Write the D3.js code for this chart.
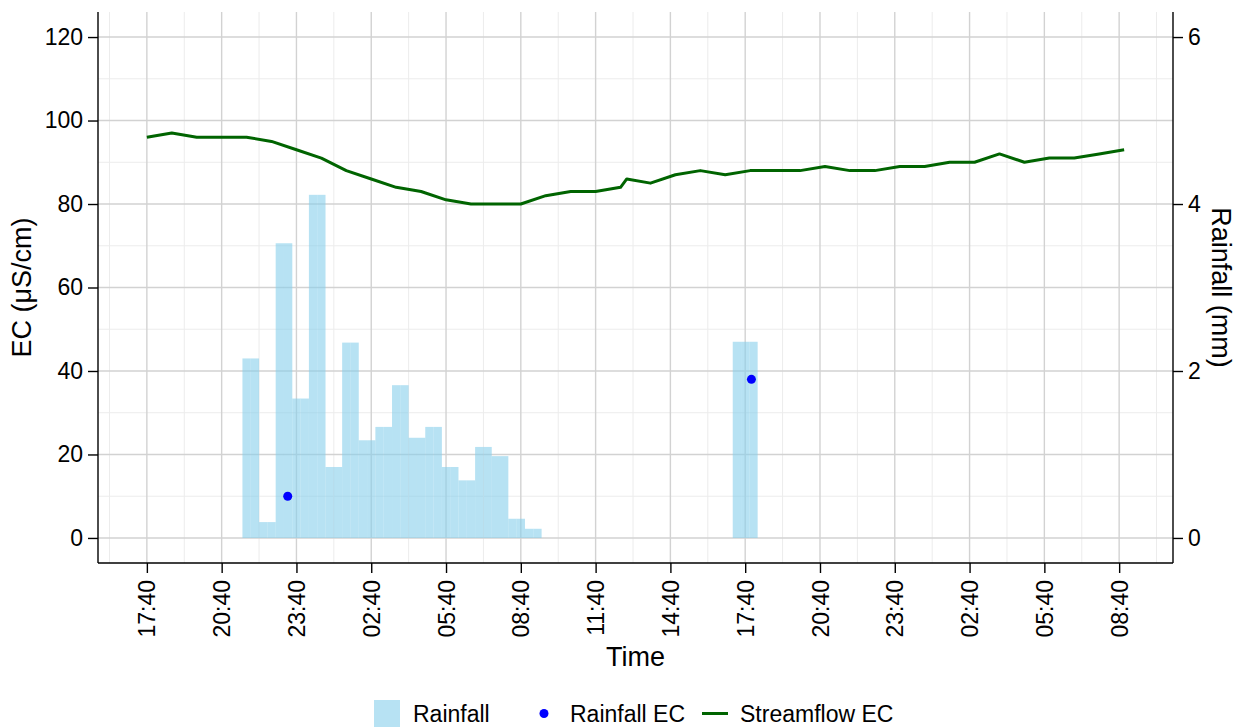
<!DOCTYPE html>
<html>
<head>
<meta charset="utf-8">
<script src="https://cdn.jsdelivr.net/npm/d3@7"></script>
<style>
  html, body { margin: 0; padding: 0; background: #fff; }
  svg { display: block; font-family: "Liberation Sans", Arial, sans-serif; }
</style>
</head>
<body>
<svg id="chart" width="1244" height="727"></svg>
<script>
// Elapsed hours since 17:40 on the first day
const tickHours = [0, 3, 6, 9, 12, 15, 18, 21, 24, 27, 30, 33, 36, 39];
const tickLabels = ["17:40", "20:40", "23:40", "02:40", "05:40", "08:40", "11:40",
                    "14:40", "17:40", "20:40", "23:40", "02:40", "05:40", "08:40"];

// Streamflow EC (µS/cm)
const streamHours = [0, 1, 2, 3, 4, 5, 6, 7, 8, 9, 10, 11, 12, 13, 14, 15, 16, 17, 18, 19,
                     19.25, 20.2, 21.2, 22.2, 23.2, 24.2, 25.2, 26.2, 27.2, 28.2, 29.2, 30.2,
                     31.2, 32.2, 33.2, 34.2, 35.2, 36.2, 37.2, 38.2, 39.2];
const streamEC = [96, 97, 96, 96, 96, 95, 93, 91, 88, 86, 84, 83, 81, 80, 80, 80, 82, 83, 83, 84,
                  86, 85, 87, 88, 87, 88, 88, 88, 89, 88, 88, 89,
                  89, 90, 90, 92, 90, 91, 91, 92, 93];

// Rainfall (mm) in 20-minute intervals, bar centres in elapsed hours
const rainHours = [4.0, 4.333, 4.667, 5.0, 5.333, 5.667, 6.0, 6.333, 6.667, 7.0, 7.333, 7.667,
                   8.0, 8.333, 8.667, 9.0, 9.333, 9.667, 10.0, 10.333, 10.667, 11.0, 11.333, 11.667,
                   12.0, 12.333, 12.667, 13.0, 13.333, 13.667, 14.0, 14.333, 14.667, 15.0, 15.333, 15.667,
                   23.667, 24.0, 24.333];
const rainMM = [2.15, 2.15, 0.19, 0.19, 3.53, 3.53, 1.67, 1.67, 4.11, 4.11, 0.85, 0.85,
                2.34, 2.34, 1.17, 1.17, 1.33, 1.33, 1.83, 1.83, 1.20, 1.20, 1.33, 1.33,
                0.85, 0.85, 0.69, 0.69, 1.09, 1.09, 0.98, 0.98, 0.23, 0.23, 0.11, 0.11,
                2.35, 2.35, 2.35];

// Rainfall EC samples (µS/cm)
const rainECHours = [5.65, 24.25];
const rainEC = [10, 38];

const ecTicks = [0, 20, 40, 60, 80, 100, 120];
const rainTicks = [0, 2, 4, 6];
const rainToEC = 20; // secondary axis: 1 mm of rainfall per 20 µS/cm

const svg = d3.select("#chart");
const m = { left: 98, right: 1173, top: 12, bottom: 563 };

const dataExtent = d3.extent(streamHours.concat(rainHours, rainECHours));
const pad = (dataExtent[1] - dataExtent[0]) * 0.05;
const x = d3.scaleLinear().domain([dataExtent[0] - pad, dataExtent[1] + pad]).range([m.left, m.right]);
const y = d3.scaleLinear().domain([-6, 126]).range([m.bottom, m.top]);
const yRain = d3.scaleLinear().domain([-6 / rainToEC, 126 / rainToEC]).range([m.bottom, m.top]);

const grid = svg.append("g");
// minor grid
const minorX = [-1.5].concat(tickHours.map(h => h + 1.5));
const minorY = [10, 30, 50, 70, 90, 110];
grid.selectAll(".mx").data(minorX.filter(h => x(h) > m.left && x(h) < m.right)).join("line")
  .attr("x1", d => x(d)).attr("x2", d => x(d)).attr("y1", m.top).attr("y2", m.bottom)
  .attr("stroke", "#ececec").attr("stroke-width", 1);
grid.selectAll(".my").data(minorY).join("line")
  .attr("x1", m.left).attr("x2", m.right).attr("y1", d => y(d)).attr("y2", d => y(d))
  .attr("stroke", "#ececec").attr("stroke-width", 1);
// major grid
grid.selectAll(".Mx").data(tickHours).join("line")
  .attr("x1", d => x(d)).attr("x2", d => x(d)).attr("y1", m.top).attr("y2", m.bottom)
  .attr("stroke", "#d2d2d2").attr("stroke-width", 1.4);
grid.selectAll(".My").data(ecTicks).join("line")
  .attr("x1", m.left).attr("x2", m.right).attr("y1", d => y(d)).attr("y2", d => y(d))
  .attr("stroke", "#d2d2d2").attr("stroke-width", 1.4);

// rainfall bars
const barW = x(1 / 3) - x(0);
svg.append("g").selectAll("rect").data(rainHours).join("rect")
  .attr("x", (d) => x(d) - barW / 2)
  .attr("width", barW)
  .attr("y", (d, i) => yRain(rainMM[i]))
  .attr("height", (d, i) => yRain(0) - yRain(rainMM[i]))
  .attr("fill", "skyblue").attr("fill-opacity", 0.6);

// streamflow EC line
const line = d3.line().x(d => x(d[0])).y(d => y(d[1]));
svg.append("path")
  .datum(streamHours.map((h, i) => [h, streamEC[i]]))
  .attr("d", line)
  .attr("fill", "none").attr("stroke", "#006400").attr("stroke-width", 3)
  .attr("stroke-linejoin", "round");

// rainfall EC points
svg.append("g").selectAll("circle").data(rainECHours).join("circle")
  .attr("cx", d => x(d)).attr("cy", (d, i) => y(rainEC[i])).attr("r", 4.5)
  .attr("fill", "#0000ff");

// axes
const fontTick = 23;
const axisL = svg.append("g").attr("transform", `translate(${m.left},0)`)
  .call(d3.axisLeft(y).tickValues(ecTicks).tickSize(10).tickPadding(5));
const axisR = svg.append("g").attr("transform", `translate(${m.right},0)`)
  .call(d3.axisRight(yRain).tickValues(rainTicks).tickFormat(d3.format("d")).tickSize(10).tickPadding(5));
const axisB = svg.append("g").attr("transform", `translate(0,${m.bottom})`)
  .call(d3.axisBottom(x).tickValues(tickHours).tickFormat((d, i) => tickLabels[i]).tickSize(10));

[axisL, axisR, axisB].forEach(g => {
  g.select(".domain").remove();
  g.selectAll(".tick line").attr("stroke", "#000").attr("stroke-width", 1.4);
  g.selectAll(".tick text").attr("fill", "#000").style("font-size", fontTick + "px")
    .style("font-family", "'Liberation Sans', Arial, sans-serif");
});
// axis lines spanning the panel
svg.append("line").attr("x1", m.left).attr("x2", m.left).attr("y1", m.top).attr("y2", m.bottom)
  .attr("stroke", "#000").attr("stroke-width", 1.4);
svg.append("line").attr("x1", m.right).attr("x2", m.right).attr("y1", m.top).attr("y2", m.bottom)
  .attr("stroke", "#000").attr("stroke-width", 1.4);
svg.append("line").attr("x1", m.left).attr("x2", m.right).attr("y1", m.bottom).attr("y2", m.bottom)
  .attr("stroke", "#000").attr("stroke-width", 1.4);

axisB.selectAll(".tick text")
  .attr("transform", "rotate(-90)")
  .attr("text-anchor", "end")
  .attr("x", -17).attr("y", 0).attr("dy", "0.35em");

// axis titles
const fontTitle = 27;
svg.append("text").attr("x", (m.left + m.right) / 2).attr("y", 666)
  .attr("text-anchor", "middle").style("font-size", fontTitle + "px").text("Time");
svg.append("text").attr("transform", `translate(31,${(m.top + m.bottom) / 2}) rotate(-90)`)
  .attr("text-anchor", "middle").style("font-size", fontTitle + "px").text("EC (μS/cm)");
svg.append("text").attr("transform", `translate(1212,${(m.top + m.bottom) / 2}) rotate(90)`)
  .attr("text-anchor", "middle").style("font-size", fontTitle + "px").text("Rainfall (mm)");

// legend
const lg = svg.append("g").style("font-size", "23px");
lg.append("rect").attr("x", 374).attr("y", 700).attr("width", 26).attr("height", 27)
  .attr("fill", "skyblue").attr("fill-opacity", 0.6);
lg.append("text").attr("x", 413).attr("y", 722).text("Rainfall");
lg.append("circle").attr("cx", 544).attr("cy", 713.5).attr("r", 4.5).attr("fill", "#0000ff");
lg.append("text").attr("x", 570).attr("y", 722).text("Rainfall EC");
lg.append("line").attr("x1", 702).attr("x2", 728).attr("y1", 713.5).attr("y2", 713.5)
  .attr("stroke", "#006400").attr("stroke-width", 3);
lg.append("text").attr("x", 740).attr("y", 722).text("Streamflow EC");
</script>
</body>
</html>
